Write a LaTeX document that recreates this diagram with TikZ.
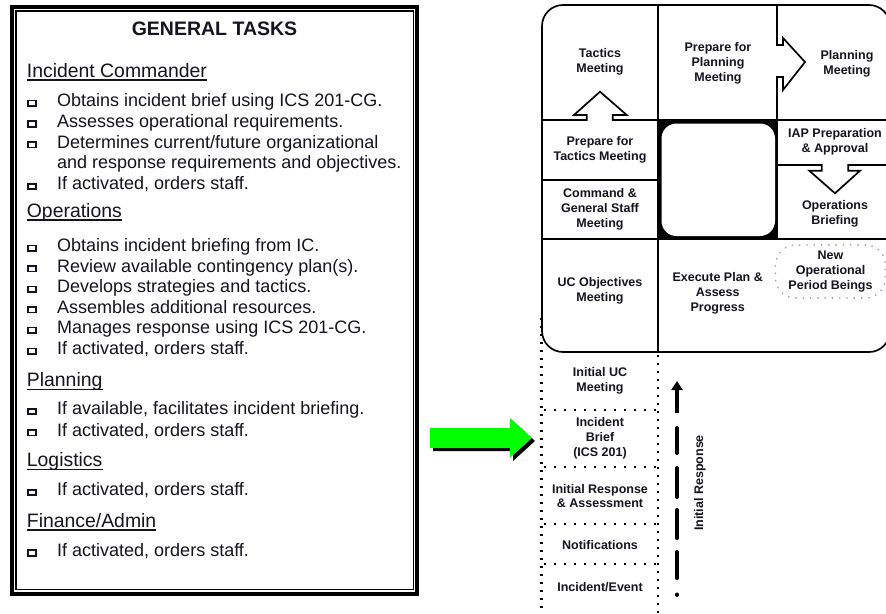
\documentclass[tikz,border=0pt]{standalone}
\usepackage{fontspec}
\setmainfont{Liberation Sans}
\usetikzlibrary{arrows.meta}

% fonts
\newcommand\titlefont{\fontsize{19.5}{22}\selectfont\bfseries}
\newcommand\headfont{\fontsize{19.4}{22}\selectfont}
\newcommand\taskfont{\fontsize{18}{20.8}\selectfont}
\newcommand\cellfont{\fontsize{12.5}{14.8}\selectfont\bfseries}

\definecolor{arrowgreen}{RGB}{0,255,0}
\definecolor{inktext}{RGB}{20,20,30}

\tikzset{
  tasktext/.style={anchor=base west, inner sep=0pt, font=\taskfont, text=inktext},
  headtext/.style={anchor=base west, inner sep=0pt, font=\headfont, text=inktext},
  bulletbox/.style={draw=inktext, line width=1.7pt},
  cell/.style={align=center, inner sep=0pt, font=\cellfont, text=inktext},
  grid/.style={line width=1.7pt, line join=miter},
  dotline/.style={line width=2.4pt, dash pattern=on 2.4pt off 5.6pt},
  irdash/.style={line width=4pt, line cap=round},
}

% one checklist line: bullet square plus its text
\newcommand\bulletline[3]{%
  \draw[bulletbox] (28.3,{#2-6}) rectangle (35.8,{#2-0.6});
  \node[tasktext] (#1) at (57,#2) {#3};}
% an underlined section heading
\newcommand\sectionhead[3]{%
  \node[headtext] (#1) at (26.7,#2) {#3};
  \draw[line width=1.3pt, inktext] ([yshift=-2.6pt]#1.base west) -- ([yshift=-2.6pt]#1.base east);}

\begin{document}
\begin{tikzpicture}[x=1pt,y=-1pt]
\useasboundingbox (0,0) rectangle (886,613);
\fill[white] (0,0) rectangle (886,613);

% ---------- task list frame ----------
\draw[line width=4pt] (12,7) rectangle (416.5,594);
\draw[line width=1.2pt] (16,11) rectangle (413.5,589.5);

\node[anchor=base, inner sep=0pt, font=\titlefont, text=inktext] (title) at (214.5,35) {GENERAL TASKS};

\sectionhead{ic}{77.5}{Incident Commander}
\bulletline{ic1}{106.5}{Obtains incident brief using ICS 201-CG.}
\bulletline{ic2}{127.3}{Assesses operational requirements.}
\bulletline{ic3}{148.1}{Determines current/future organizational}
\node[tasktext] (ic3b) at (57,168.9) {and response requirements and objectives.};
\bulletline{ic4}{189.7}{If activated, orders staff.}

\sectionhead{ops}{217.5}{Operations}
\bulletline{ops1}{251.5}{Obtains incident briefing from IC.}
\bulletline{ops2}{272}{Review available contingency plan(s).}
\bulletline{ops3}{292.5}{Develops strategies and tactics.}
\bulletline{ops4}{313}{Assembles additional resources.}
\bulletline{ops5}{333.5}{Manages response using ICS 201-CG.}
\bulletline{ops6}{354.5}{If activated, orders staff.}

\sectionhead{plan}{386.7}{Planning}
\bulletline{plan1}{414.7}{If available, facilitates incident briefing.}
\bulletline{plan2}{436}{If activated, orders staff.}

\sectionhead{log}{466.7}{Logistics}
\bulletline{log1}{495.7}{If activated, orders staff.}

\sectionhead{fin}{527.3}{Finance/Admin}
\bulletline{fin1}{556.3}{If activated, orders staff.}

% ---------- green pointer ----------
\fill[black] (433,431) -- (513,431) -- (513,421) -- (535,441) -- (513,461) -- (513,451) -- (433,451) -- cycle;
\fill[arrowgreen] (430,428) -- (510,428) -- (510,418) -- (532,438) -- (510,458) -- (510,448) -- (430,448) -- cycle;

% ---------- planning cycle ----------
% centre block
\fill[black] (658,120) rectangle (778,239);
\fill[white, rounded corners=15pt] (661.5,123.5) rectangle (775,236);

% outer frame
\draw[grid, rounded corners=21pt] (542,5) rectangle (890,352);
% column divider
\draw[grid] (658,5) -- (658,352);
% divider with arrow towards the planning meeting
\draw[grid] (777,5) -- (777,45) -- (783,45) -- (783,38) -- (805,62) -- (783,90) -- (783,77) -- (777,77) -- (777,239);
% row divider with arrow up to the tactics meeting
\draw[grid] (542,120) -- (586.7,120) -- (586.7,115) -- (574,115) -- (600,91.7) -- (626.7,115) -- (612.7,115) -- (612.7,120) -- (890,120);
% row divider with arrow down to the operations briefing
\draw[grid] (777,165) -- (821.7,165) -- (821.7,170.7) -- (809.3,170.7) -- (835,193.3) -- (860,170.7) -- (848.3,170.7) -- (848.3,165) -- (890,165);
\draw[grid] (542,180) -- (658,180);
\draw[grid] (542,239) -- (890,239);

\node[cell] (tactics)  at (600,61.7)  {Tactics\\Meeting};
\node[cell] (prepplan) at (718,63)    {Prepare for\\Planning\\Meeting};
\node[cell] (planmtg)  at (847,64)    {Planning\\Meeting};
\node[cell] (preptac)  at (600,149.5) {Prepare for\\Tactics Meeting};
\node[cell] (iap)      at (835,141.5) {IAP Preparation\\\& Approval};
\node[cell] (cgs)      at (600,209)   {Command \&\\General Staff\\Meeting};
\node[cell] (opsbrief) at (835,214)   {Operations\\Briefing};
\node[cell] (ucobj)    at (600,291)   {UC Objectives\\Meeting};
\node[cell] (exec)     at (717.7,293.5) {Execute Plan \&\\Assess\\Progress};
\node[cell, draw=gray!75, line width=1.6pt, line cap=round, dash pattern=on 0.3pt off 7pt,
      rounded corners=20pt, minimum width=110pt, minimum height=53pt] (newop) at (830.5,271.5)
      {New\\Operational\\Period Beings};

% ---------- initial response column ----------
\draw[dotline] (541.5,318) -- (541.5,613);
\draw[dotline] (658,355) -- (658,613);
\foreach \y in {410,467,524,564}
  \draw[dotline, dash pattern=on 2.2pt off 7.8pt] (544,\y) -- (658,\y);

\node[cell] (inituc)   at (600,381)   {Initial UC\\Meeting};
\node[cell] (incbrief) at (600,438)   {Incident\\Brief\\(ICS 201)};
\node[cell] (initresp) at (600,496)   {Initial Response\\\& Assessment};
\node[cell] (notif)    at (600,545)   {Notifications};
\node[cell] (incevent) at (600,586.7) {Incident/Event};

% dashed rising arrow
\draw[line width=4pt, -{Triangle[width=11pt,length=9pt]}] (677,413) -- (677,381);
\foreach \a/\b in {428/453, 468/497, 510/538, 552/578, 594.5/595}
  \draw[irdash] (677,\a) -- (677,\b);
\node[cell, rotate=90] (irlabel) at (700,483) {Initial Response};

\end{tikzpicture}
\end{document}
